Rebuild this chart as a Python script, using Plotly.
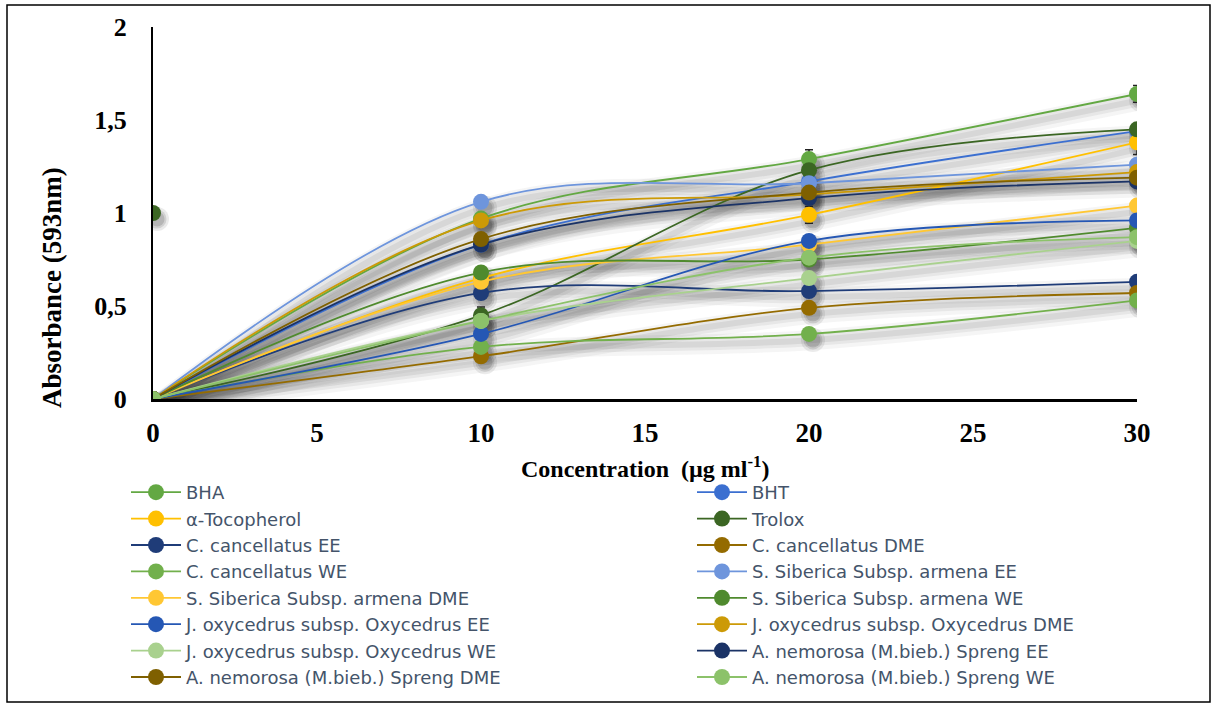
import plotly.graph_objects as go

# Concentration steps (µg/ml)
conc = [0, 10, 20, 30]

# Absorbance at 593 nm for each sample
bha = [0, 0.97, 1.29, 1.64]
bht = [0, 0.83, 1.17, 1.44]
alpha_toc = [0, 0.65, 0.99, 1.38]
trolox = [0, 0.45, 1.23, 1.45]
cc_ee = [0, 0.57, 0.58, 0.63]
cc_dme = [0, 0.23, 0.49, 0.57]
cc_we = [0, 0.28, 0.35, 0.53]
ss_ee = [0, 1.06, 1.16, 1.26]
ss_dme = [0, 0.63, 0.83, 1.04]
ss_we = [0, 0.68, 0.75, 0.92]
jo_ee = [0, 0.35, 0.85, 0.96]
jo_dme = [0, 0.96, 1.10, 1.22]
jo_we = [0, 0.42, 0.65, 0.85]
an_ee = [0, 0.83, 1.08, 1.17]
an_dme = [0, 0.86, 1.11, 1.19]
an_we = [0, 0.42, 0.76, 0.87]

# Extra Trolox reading plotted at the origin column
trolox_extra_x = [0]
trolox_extra_y = [1]

# Standard deviations
bha_sd = [0, 0.02, 0.05, 0.045]
alpha_toc_sd = [0, 0.02, 0.045, 0.065]
trolox_sd = [0, 0.045, 0.03, 0.02]
zero_sd = [0, 0, 0, 0]

names = [
    "BHA", "BHT", "α-Tocopherol", "Trolox",
    "C. cancellatus EE", "C. cancellatus DME",
    "C. cancellatus WE", "S. Siberica Subsp. armena EE",
    "S. Siberica Subsp. armena DME", "S. Siberica Subsp. armena WE",
    "J. oxycedrus subsp. Oxycedrus EE", "J. oxycedrus subsp. Oxycedrus DME",
    "J. oxycedrus subsp. Oxycedrus WE", "A. nemorosa (M.bieb.) Spreng EE",
    "A. nemorosa (M.bieb.) Spreng DME", "A. nemorosa (M.bieb.) Spreng WE",
]
values = [bha, bht, alpha_toc, trolox, cc_ee, cc_dme, cc_we, ss_ee,
          ss_dme, ss_we, jo_ee, jo_dme, jo_we, an_ee, an_dme, an_we]
errors = [bha_sd, zero_sd, alpha_toc_sd, trolox_sd] + [zero_sd] * 12

colors = [
    "#63A843", "#3B6FD0", "#FFC000", "#3B6623",
    "#1F3C78", "#946B00", "#72B04C", "#6E95DC",
    "#FFC733", "#4F8A2E", "#2557B4", "#CC9A06",
    "#A9D18E", "#1B3366", "#7F6000", "#8CC26A",
]

# Plot box in pixels (figure is 1217 x 704)
L, R, T, B = 153, 1137, 27, 399
W, H = 1217, 704
PW, PH = R - L, B - T
X0, X1, Y0, Y1 = 0, 30, 0, 2

# Soft drop shadow: same data drawn on a slightly shifted axis pair
SDX, SDY = 4, 6
sx = SDX / PW * (X1 - X0)
sy = SDY / PH * (Y1 - Y0)

fig = go.Figure()

shadow_layers = [(20, 0.05, 24), (12, 0.07, 19), (6, 0.09, 15)]
for ys in values + [None]:
    for w, a, ms in shadow_layers:
        if ys is None:
            fig.add_trace(go.Scatter(
                x=trolox_extra_x, y=trolox_extra_y, mode="markers",
                marker=dict(size=ms, color=f"rgba(60,60,60,{a * 2})"),
                showlegend=False, hoverinfo="skip", xaxis="x", yaxis="y"))
            continue
        fig.add_trace(go.Scatter(
            x=conc, y=ys, mode="lines+markers",
            line=dict(shape="spline", smoothing=1, width=w,
                      color=f"rgba(60,60,60,{a})"),
            marker=dict(size=ms, color=f"rgba(60,60,60,{a * 2})"),
            showlegend=False, hoverinfo="skip", xaxis="x", yaxis="y"))

# Two legend columns: even-indexed series left, odd-indexed right
for i, (name, ys, err, col) in enumerate(zip(names, values, errors, colors)):
    fig.add_trace(go.Scatter(
        x=conc, y=ys, name=name, mode="lines+markers",
        line=dict(shape="spline", smoothing=1, width=1.8, color=col),
        marker=dict(size=16, color=col),
        error_y=dict(type="data", array=err, visible=True,
                     color="#222222", thickness=1.5, width=4),
        legend="legend" if i % 2 == 0 else "legend2",
        xaxis="x2", yaxis="y2"))

fig.add_trace(go.Scatter(
    x=trolox_extra_x, y=trolox_extra_y, mode="markers",
    marker=dict(size=16, color=colors[3]), showlegend=False,
    xaxis="x2", yaxis="y2"))

xtick_font = dict(family="Liberation Serif", size=27, color="black",
                  weight="bold")
ytick_font = dict(family="Liberation Serif", size=26, color="black",
                  weight="bold")
legend_font = dict(family="DejaVu Sans", size=18, color="#44546A")
legend_common = dict(
    orientation="v", yanchor="top", xanchor="left", itemwidth=50,
    font=legend_font, bgcolor="rgba(0,0,0,0)", traceorder="normal",
    y=(B - 474) / PH)

fig.update_layout(
    width=W, height=H,
    margin=dict(l=L, r=W - R, t=T, b=H - B, autoexpand=False),
    paper_bgcolor="white", plot_bgcolor="white",
    separators=", ",
    showlegend=True,
    xaxis=dict(range=[X0 - sx, X1 - sx], visible=False, fixedrange=True),
    yaxis=dict(range=[Y0 + sy, Y1 + sy], visible=False, fixedrange=True),
    xaxis2=dict(range=[X0, X1], overlaying="x", side="bottom",
                tickvals=[0, 5, 10, 15, 20, 25, 30], showgrid=False,
                zeroline=False, showline=True, linecolor="black",
                linewidth=3, ticks="", tickfont=xtick_font,
                ticklabelstandoff=8),
    yaxis2=dict(range=[Y0, Y1], overlaying="y", side="left",
                tickvals=[0, 0.5, 1, 1.5, 2], showgrid=False,
                zeroline=False, showline=True, linecolor="black",
                linewidth=2, ticks="", tickfont=ytick_font,
                ticklabelstandoff=19),
    legend=dict(x=(126 - L) / PW, **legend_common),
    legend2=dict(x=(692 - L) / PW, **legend_common),
    annotations=[
        dict(text="<b>Concentration  (µg ml<sup>-1</sup>)</b>",
             x=(645 - L) / PW, y=(B - 467) / PH, xref="paper", yref="paper",
             xanchor="center", yanchor="middle", showarrow=False,
             font=dict(family="Liberation Serif", size=24, color="black")),
        dict(text="<b>Absorbance (593nm)</b>", textangle=-90,
             x=(52 - L) / PW, y=(B - 288) / PH, xref="paper", yref="paper",
             xanchor="center", yanchor="middle", showarrow=False,
             font=dict(family="Liberation Serif", size=27, color="black")),
    ],
    shapes=[dict(type="rect", xref="paper", yref="paper",
                 x0=(7 - L) / PW, x1=(1210 - L) / PW,
                 y0=(B - 702) / PH, y1=(B - 5) / PH,
                 line=dict(color="black", width=1.5), layer="below")],
)

fig.write_html("out.html")
